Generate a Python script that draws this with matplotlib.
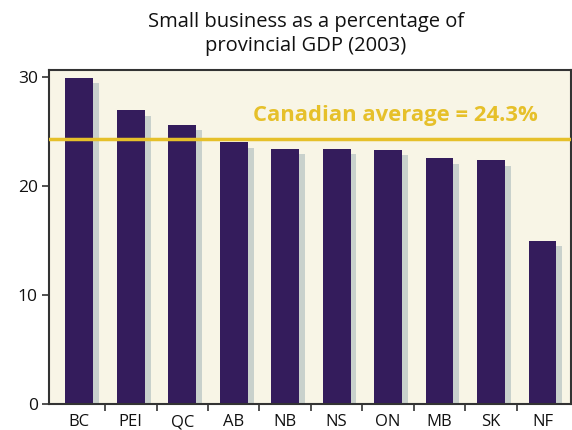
import matplotlib
matplotlib.use("Agg")
import matplotlib.pyplot as plt
import numpy as np

provinces = ["BC", "PEI", "QC", "AB", "NB", "NS", "ON", "MB", "SK", "NF"]
values = [29.9, 26.9, 25.6, 24.0, 23.4, 23.4, 23.3, 22.5, 22.35, 14.95]
average = 24.3
title = "Small business as a percentage of\nprovincial GDP (2003)"
avg_label = "Canadian average = 24.3%"

plt.rcParams['font.family'] = ['Open Sans', 'DejaVu Sans']

fig = plt.figure(figsize=(5.72, 4.30), dpi=100)
ax = fig.add_axes([49/572, 1 - 404.3/430, (571-49)/572, (404.3-70)/430])

bg = "#F8F5E6"
bar_c = "#341C5C"
shadow_c = "#C9D1CC"
gold = "#E6C02A"
spine_c = "#333333"

ax.set_facecolor(bg)
x = np.arange(len(provinces))
w = 0.54
ax.bar(x + 0.115, np.array(values) - 0.5, width=w, color=shadow_c, zorder=1)
ax.bar(x, values, width=w, color=bar_c, zorder=2)
ax.axhline(average, color=gold, lw=2.5, zorder=3)
ax.text(3.37, average + 1.6, avg_label, color=gold, fontsize=15.8,
        fontweight='bold', ha='left', va='baseline', zorder=4)

ax.set_xlim(-0.59, 9.555)
ax.set_ylim(0, 30.6)
ax.set_yticks([0, 10, 20, 30])
ax.set_xticks(x)
ax.set_xticklabels(provinces)
ax.set_xticks(np.arange(0.5, 9, 1), minor=True)
ax.tick_params(axis='x', which='major', length=0, labelsize=12, pad=7, colors='#111111')
ax.tick_params(axis='x', which='minor', length=5, width=1.2, color=spine_c, direction='out')
ax.tick_params(axis='y', length=5, width=1.2, color=spine_c, labelsize=12.5, pad=3, labelcolor='#111111')
for s in ax.spines.values():
    s.set_color(spine_c)
    s.set_linewidth(1.5)

fig.text(306/572, 1 - 12/430, title, ha='center', va='top', fontsize=14.5,
         color='#111111', linespacing=1.3)

fig.savefig("out.png", dpi=100)
